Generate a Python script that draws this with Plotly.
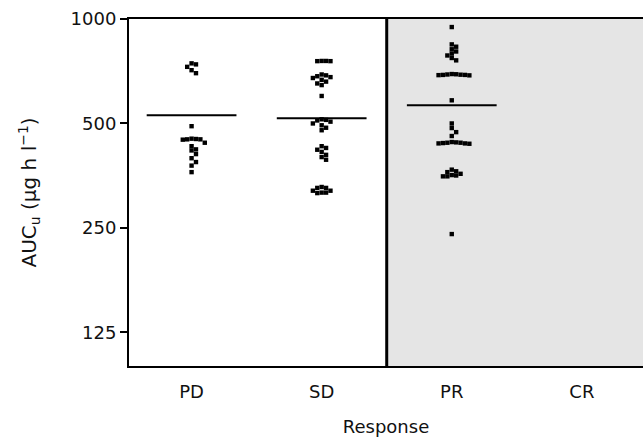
import numpy as np
import plotly.graph_objects as go

# Response groups and unbound AUC values (µg h l^-1)
categories = ["PD", "SD", "PR", "CR"]
auc_pd = [745, 740, 728, 712, 698, 491, 452, 451, 450, 450, 449, 440, 430,
          421, 418, 408, 397, 387, 378, 362]
auc_sd = [757, 757, 756, 756, 692, 688, 684, 680, 676, 668, 660, 652, 645,
          600, 514, 512, 510, 506, 500, 494, 486, 478, 430, 425, 420, 414,
          406, 400, 393, 328, 326, 320, 316, 315, 316, 320, 326]
auc_pr = [948, 845, 832, 818, 806, 795, 785, 772, 760, 694, 693, 692, 691,
          690, 690, 689, 688, 583, 500, 485, 472, 460, 442, 441, 440, 440,
          439, 438, 438, 437, 368, 364, 358, 354, 352, 352, 355, 362, 240]
auc_cr = []
group_centre_line = [528, 518, 564, None]
y_tick_values = [125, 250, 500, 1000]

# Figure geometry
W, H = 643, 445
M_L, M_R, M_T, M_B = 129, 0, 19, 79
X_RANGE = [-0.481, 3.47]
Y_RANGE = [2.0, 3.0]  # log10
plot_w = W - M_L - M_R
plot_h = H - M_T - M_B
px_per_x = plot_w / (X_RANGE[1] - X_RANGE[0])
px_per_dec = plot_h / (Y_RANGE[1] - Y_RANGE[0])

MARK = 4.4  # marker size in px


def swarm_offsets(values, step=MARK):
    """Simple beeswarm: shift points sideways until they do not overlap."""
    order = np.argsort(-np.asarray(values, dtype=float), kind="stable")
    placed = []
    offsets = [0.0] * len(values)
    for idx in order:
        y = np.log10(values[idx]) * px_per_dec
        k = 0
        while True:
            cands = [0] if k == 0 else [k, -k]
            done = False
            for c in cands:
                dx = c * step
                if all(abs(dx - px) >= step * 0.95 or abs(y - py) >= step * 0.95
                       for px, py in placed):
                    placed.append((dx, y))
                    offsets[idx] = dx / px_per_x
                    done = True
                    break
            if done:
                break
            k += 1
    return offsets


groups = [auc_pd, auc_sd, auc_pr, auc_cr]

fig = go.Figure()

# shaded responders region and divider
fig.add_shape(type="rect", xref="x", yref="paper", x0=1.5, x1=X_RANGE[1],
              y0=0, y1=1, fillcolor="#e5e5e5", line_width=0, layer="below")
fig.add_shape(type="line", xref="x", yref="paper", x0=1.5, x1=1.5,
              y0=0, y1=1, line=dict(color="black", width=3))

for i, vals in enumerate(groups):
    if not vals:
        continue
    offs = swarm_offsets(vals)
    fig.add_trace(go.Scatter(
        x=[i + o for o in offs], y=vals, mode="markers",
        marker=dict(symbol="square", size=MARK, color="black",
                    line=dict(width=0)),
        showlegend=False, hoverinfo="y"))

for i, m in enumerate(group_centre_line):
    if m is None:
        continue
    fig.add_trace(go.Scatter(
        x=[i - 0.345, i + 0.345], y=[m, m], mode="lines",
        line=dict(color="black", width=2), showlegend=False,
        hoverinfo="skip"))

font_main = "DejaVu Sans, sans-serif"

fig.update_layout(
    width=W, height=H,
    margin=dict(l=M_L, r=M_R, t=M_T, b=M_B),
    paper_bgcolor="white", plot_bgcolor="white",
    font=dict(family=font_main, size=18, color="#111"),
    xaxis=dict(
        range=X_RANGE, tickmode="array", tickvals=[0, 1, 2, 3],
        ticktext=categories, showgrid=False, zeroline=False,
        showline=True, mirror=True, linecolor="black", linewidth=2,
        ticks="", tickfont=dict(size=18), ticklabelstandoff=8,
        title=dict(text="Response", font=dict(size=18), standoff=20),
    ),
    yaxis=dict(
        type="log", range=Y_RANGE, tickmode="array",
        tickvals=y_tick_values, ticktext=[str(v) for v in y_tick_values],
        showgrid=False, zeroline=False, showline=True,
        linecolor="black", linewidth=2, ticks="outside", ticklen=7,
        tickwidth=1.5, tickcolor="black", tickfont=dict(size=18),
    ),
)

fig.add_annotation(
    text="AUC<sub>u</sub> (μg h l<sup>−1</sup>)",
    xref="paper", yref="paper", x=(29 - M_L) / plot_w,
    y=0.5, textangle=-90, showarrow=False,
    font=dict(size=20, family=font_main, color="#111"),
    xanchor="center", yanchor="middle")

fig.write_html("out.html")
